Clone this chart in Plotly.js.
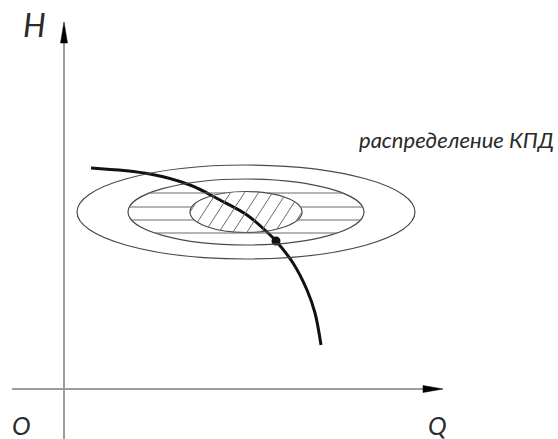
<!DOCTYPE html>
<html>
<head>
<meta charset="utf-8">
<script src="https://cdn.plot.ly/plotly-3.0.1.min.js"></script>
<style>
  html, body { margin: 0; padding: 0; background: #fff; }
  #chart { width: 558px; height: 439px; }
</style>
</head>
<body>
<div id="chart"></div>
<script>
// Pump characteristic H(Q)
const curveQ = [27, 86, 126, 156, 183, 203, 212, 229, 243, 251, 257];
const curveH = [221, 215, 204, 189, 174, 157, 148, 126, 99, 76, 44];

// Operating point on the characteristic
const pointQ = [212];
const pointH = [148];

// Efficiency zones: common centre, semi-axes outer -> inner
const zoneCentreQ = 182;
const zoneCentreH = 177;
const zoneSemiQ = [169, 118, 56];
const zoneSemiH = [47, 33, 20.5];

// Horizontal hatch levels in the middle zone
const hatchLevelsH = [196, 182, 169, 156];
// Diagonal hatch in the inner zone: intercepts on the centre line and slope
const diagOffsets = [-70, -56, -42, -28, -14, 0, 14, 28, 42, 56, 70];
const diagSlope = 1.55;

const labels = { h: 'H', q: 'Q', o: 'O', eff: 'распределение КПД' };

const fontFamily = 'Lato';
const axisGrey = '#9c9c9c';
const zoneColor = '#4a4a4a';
const hatchColor = '#6a6a6a';

const shapes = [];

// coordinate axes with arrowheads
shapes.push({ type: 'line', xref: 'x', yref: 'y', x0: 0, x1: 0, y0: -50, y1: 348,
  line: { color: axisGrey, width: 2 } });
shapes.push({ type: 'line', xref: 'x', yref: 'y', x0: -52, x1: 361, y0: 0, y1: 0,
  line: { color: axisGrey, width: 2 } });
shapes.push({ type: 'path', xref: 'x', yref: 'y', path: 'M -3.5,346 L 0,367 L 3.5,346 Z',
  fillcolor: '#000', line: { color: '#000', width: 0.5 } });
shapes.push({ type: 'path', xref: 'x', yref: 'y', path: 'M 359,3.5 L 379,0 L 359,-3.5 Z',
  fillcolor: '#000', line: { color: '#000', width: 0.5 } });

// efficiency zone outlines
for (let i = 0; i < zoneSemiQ.length; i++) {
  shapes.push({ type: 'circle', xref: 'x', yref: 'y',
    x0: zoneCentreQ - zoneSemiQ[i], x1: zoneCentreQ + zoneSemiQ[i],
    y0: zoneCentreH - zoneSemiH[i], y1: zoneCentreH + zoneSemiH[i],
    line: { color: zoneColor, width: 1.2 } });
}

// half-width of an ellipse at a given height
function halfWidth(a, b, dh) {
  const t = 1 - (dh / b) * (dh / b);
  return t > 0 ? a * Math.sqrt(t) : null;
}

// horizontal hatch: inside the middle zone, outside the inner zone
hatchLevelsH.forEach(h => {
  const dh = h - zoneCentreH;
  const wm = halfWidth(zoneSemiQ[1], zoneSemiH[1], dh);
  if (wm === null) return;
  const wi = halfWidth(zoneSemiQ[2], zoneSemiH[2], dh);
  const segs = wi === null
    ? [[-wm, wm]]
    : [[-wm, -wi], [wi, wm]];
  segs.forEach(s => shapes.push({ type: 'line', xref: 'x', yref: 'y',
    x0: zoneCentreQ + s[0], x1: zoneCentreQ + s[1], y0: h, y1: h,
    line: { color: hatchColor, width: 1 } }));
});

// diagonal hatch clipped to the inner zone
const a = zoneSemiQ[2], b = zoneSemiH[2];
diagOffsets.forEach(c => {
  // line: dh = diagSlope * (dq - c); solve dq^2/a^2 + dh^2/b^2 = 1
  const A = 1 / (a * a) + diagSlope * diagSlope / (b * b);
  const B = -2 * diagSlope * diagSlope * c / (b * b);
  const C = diagSlope * diagSlope * c * c / (b * b) - 1;
  const disc = B * B - 4 * A * C;
  if (disc <= 0) return;
  const q1 = (-B - Math.sqrt(disc)) / (2 * A);
  const q2 = (-B + Math.sqrt(disc)) / (2 * A);
  shapes.push({ type: 'line', xref: 'x', yref: 'y',
    x0: zoneCentreQ + q1, x1: zoneCentreQ + q2,
    y0: zoneCentreH + diagSlope * (q1 - c), y1: zoneCentreH + diagSlope * (q2 - c),
    line: { color: hatchColor, width: 1 } });
});

const traces = [
  { x: curveQ, y: curveH, type: 'scatter', mode: 'lines',
    line: { color: '#111', width: 3, shape: 'spline', smoothing: 1 },
    hoverinfo: 'skip', showlegend: false },
  { x: pointQ, y: pointH, type: 'scatter', mode: 'markers',
    marker: { color: '#111', size: 9 }, hoverinfo: 'skip', showlegend: false }
];

const italic = (size) => ({ family: fontFamily, size: size, color: '#2a2a2a', style: 'italic' });

const annotations = [
  { x: -30, y: 365, xref: 'x', yref: 'y', text: labels.h, showarrow: false,
    xanchor: 'center', yanchor: 'middle', font: italic(32) },
  { x: -43, y: -36, xref: 'x', yref: 'y', text: labels.o, showarrow: false,
    xanchor: 'center', yanchor: 'middle', font: italic(25) },
  { x: 373, y: -36, xref: 'x', yref: 'y', text: labels.q, showarrow: false,
    xanchor: 'center', yanchor: 'middle', font: italic(25) },
  { x: 293, y: 250, xref: 'x', yref: 'y', text: labels.eff, showarrow: false,
    xanchor: 'left', yanchor: 'middle', font: italic(22) }
];

const layout = {
  width: 558, height: 439, autosize: false,
  margin: { l: 0, r: 0, t: 0, b: 0, pad: 0 },
  paper_bgcolor: '#fff', plot_bgcolor: '#fff',
  xaxis: { range: [-64, 494], visible: false, fixedrange: true },
  yaxis: { range: [-50, 389], visible: false, fixedrange: true },
  shapes: shapes,
  annotations: annotations,
  showlegend: false
};

Plotly.newPlot('chart', traces, layout, { staticPlot: true, displayModeBar: false });
</script>
</body>
</html>
